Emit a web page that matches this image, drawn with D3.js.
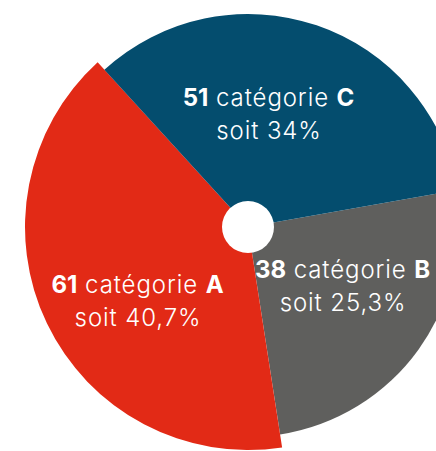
<!DOCTYPE html>
<html>
<head>
<meta charset="utf-8">
<script src="https://cdn.jsdelivr.net/npm/d3@7"></script>
<style>
  html, body { margin: 0; padding: 0; background: #fff; }
  svg { display: block; }
  text { font-family: Inter, Lato, "Noto Sans", sans-serif; fill: #fff; }
</style>
</head>
<body>
<svg id="chart" width="436" height="451"></svg>
<script>
// Répartition par catégorie (ordre horaire à partir de la part B)
const categories = ["B", "A", "C"];
const counts = [38, 61, 51];
const shares = ["25,3%", "40,7%", "34%"];

// Apparence de chaque part
const colors = { A: "#e22a16", B: "#5f5f5d", C: "#044d6e" };
const outerRadius = { A: 223, B: 210, C: 213 };
const labelPos = { A: [-110, 66], B: [95, 51], C: [21, -121] };

const width = 436, height = 451;
const cx = 248, cy = 227;
const innerRadius = 26;

const svg = d3.select("#chart");
const g = svg.append("g").attr("transform", `translate(${cx},${cy})`);

const rows = categories.map((c, i) => ({ cat: c, count: counts[i], share: shares[i] }));

const startDeg = 80;
const pie = d3.pie()
  .value(d => d.count)
  .sort(null)
  .startAngle(startDeg * Math.PI / 180)
  .endAngle((startDeg + 360) * Math.PI / 180);

const arcs = pie(rows);

g.selectAll("path.slice")
  .data(arcs)
  .join("path")
  .attr("class", "slice")
  .attr("fill", d => colors[d.data.cat])
  .attr("d", d => d3.arc().innerRadius(0).outerRadius(outerRadius[d.data.cat])(d));

// trou central
g.append("circle").attr("r", innerRadius).attr("fill", "#fff");

const labels = g.selectAll("text.lbl")
  .data(arcs)
  .join("text")
  .attr("class", "lbl")
  .attr("text-anchor", "middle")
  .attr("font-size", 24)
  .attr("letter-spacing", 0.9)
  .attr("transform", d => `translate(${labelPos[d.data.cat][0]},${labelPos[d.data.cat][1]})`);

labels.each(function(d) {
  const t = d3.select(this);
  const l1 = t.append("tspan").attr("x", 0).attr("y", 0);
  l1.append("tspan").attr("font-weight", 700).attr("letter-spacing", 0).text(d.data.count);
  l1.append("tspan").attr("font-weight", 300).text(" catégorie ");
  l1.append("tspan").attr("font-weight", 700).text(d.data.cat);
  t.append("tspan").attr("x", 0).attr("y", 33).attr("font-weight", 300)
    .text("soit " + d.data.share);
});
</script>
</body>
</html>
